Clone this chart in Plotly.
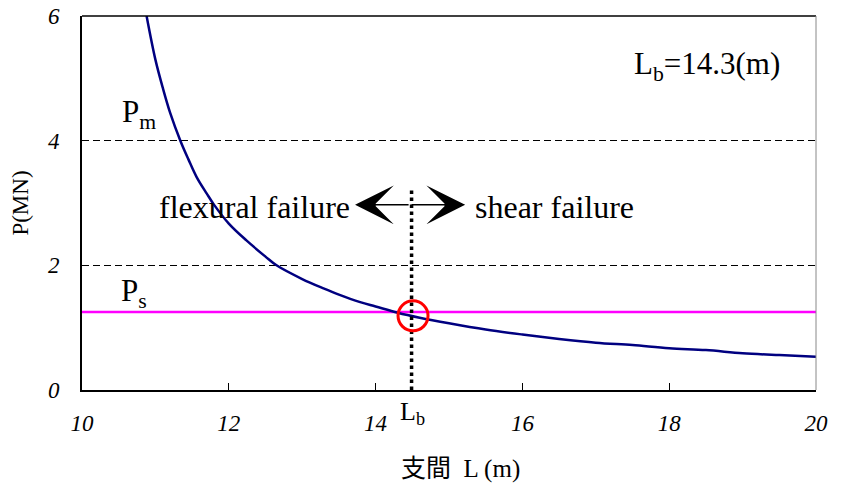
import plotly.graph_objects as go

# ---- data ----
span_L = [10.88, 11.0, 11.1, 11.2, 11.34, 11.45, 11.56, 11.7, 11.8, 12.0, 12.24, 12.5, 12.65,
          13.0, 13.29, 13.5, 13.79, 14.0, 14.3, 14.6, 15.0, 15.5, 16.0, 16.5, 17.0,
          17.5, 18.0, 18.5, 19.0, 19.5, 20.0]
load_P = [6.0, 5.3, 4.85, 4.45, 4.0, 3.7, 3.42, 3.15, 2.97, 2.67, 2.40, 2.14, 2.0,
          1.78, 1.63, 1.53, 1.41, 1.34, 1.24, 1.16, 1.07, 0.97, 0.89, 0.82, 0.76,
          0.72, 0.67, 0.64, 0.59, 0.56, 0.535]
Ps_value = 1.25
Pm_value = 4.0
Lb_line = 14.49
x_range = [10, 20]
y_range = [0, 6]
x_ticks = [10, 12, 14, 16, 18, 20]
y_ticks = [0, 2, 4, 6]

SERIF = "Liberation Serif"

fig = go.Figure()

# Ps horizontal line
fig.add_trace(go.Scatter(x=x_range, y=[Ps_value, Ps_value], mode="lines",
                         line=dict(color="#FF00FF", width=2.5), showlegend=False,
                         hoverinfo="skip"))
# curve
fig.add_trace(go.Scatter(x=span_L, y=load_P, mode="lines", line_shape="spline",
                         line=dict(color="#000080", width=2.5), showlegend=False))
# Lb dotted line
fig.add_trace(go.Scatter(x=[Lb_line, Lb_line], y=[0, 3.25], mode="lines",
                         line=dict(color="black", width=3.5, dash="dot"),
                         showlegend=False, hoverinfo="skip"))
# red circle at intersection
fig.add_trace(go.Scatter(x=[14.51], y=[1.19], mode="markers",
                         marker=dict(symbol="circle-open", size=30, color="red",
                                     line=dict(color="red", width=3)),
                         showlegend=False, hoverinfo="skip"))

tick_font = dict(family=SERIF, size=23, color="black", style="italic")
fig.update_xaxes(range=x_range, tickvals=x_ticks, ticks="inside", ticklen=7,
                 tickcolor="black", tickwidth=1, showline=True, linecolor="black",
                 linewidth=2, mirror=False, showgrid=False, zeroline=False,
                 tickfont=tick_font, ticklabelstandoff=11, automargin=False,
                 ticklabeloverflow="allow")
fig.update_yaxes(range=y_range, tickvals=y_ticks, ticks="", showline=True,
                 linecolor="black", linewidth=2, showgrid=True, gridcolor="black",
                 gridwidth=1, griddash="7px,4px", zeroline=False, tickfont=tick_font,
                 ticklabelstandoff=16, automargin=False, ticklabeloverflow="allow",
                 title=dict(text="P(MN)", font=dict(family=SERIF, size=23, color="black"),
                            standoff=15))

# frame: top line (black) and right border (thin gray)
fig.add_shape(type="line", xref="paper", yref="paper", x0=0, x1=1, y0=1, y1=1,
              line=dict(color="black", width=1.5))
fig.add_shape(type="line", xref="paper", yref="paper", x0=1, x1=1, y0=0, y1=1,
              line=dict(color="#888888", width=1))

ann_font = dict(family=SERIF, size=32, color="black")
annotations = [
    dict(x=13.68, y=2.94, text="flexural failure", xanchor="right", yanchor="middle",
         showarrow=False, font=ann_font),
    dict(x=15.33, y=2.94, text="shear failure", xanchor="left", yanchor="middle",
         showarrow=False, font=ann_font),
    dict(x=17.49, y=5.2, text="L<sub>b</sub>=14.3(m)", xanchor="left", yanchor="middle",
         showarrow=False, font=dict(family=SERIF, size=31, color="black")),
    dict(x=10.52, y=4.42, text="P<sub>m</sub>", xanchor="left", yanchor="middle",
         showarrow=False, font=dict(family=SERIF, size=31, color="black")),
    dict(x=10.5, y=1.56, text="P<sub>s</sub>", xanchor="left", yanchor="middle",
         showarrow=False, font=dict(family=SERIF, size=31, color="black")),
    dict(x=14.5, y=-0.0615, xref="x", yref="paper", text="L<sub>b</sub>",
         xanchor="center", yanchor="middle",
         showarrow=False, font=dict(family=SERIF, size=26, color="black")),
    dict(x=0.515, y=-0.204, xref="paper", yref="paper", xanchor="center", yanchor="middle",
         text="<span style='font-family:Noto Sans CJK JP'>支間</span>  L (m)",
         showarrow=False, font=dict(family=SERIF, size=25, color="black")),
    # double arrow
    dict(x=13.72, y=2.97, ax=14.47, ay=2.97, axref="x", ayref="y", text="",
         showarrow=True, arrowhead=3, arrowsize=4.3, arrowwidth=1.5, arrowcolor="black"),
    dict(x=15.22, y=2.97, ax=14.47, ay=2.97, axref="x", ayref="y", text="",
         showarrow=True, arrowhead=3, arrowsize=4.3, arrowwidth=1.5, arrowcolor="black"),
]
fig.update_layout(annotations=annotations)

# the page body adds an 8px offset; margins compensate so the plot area lands at
# x 82..816, y 16..390 in the window
fig.update_layout(width=847, height=493,
                  margin=dict(l=74, r=39, t=8, b=111, autoexpand=False),
                  paper_bgcolor="white", plot_bgcolor="white",
                  font=dict(family=SERIF, color="black"))

fig.write_html("out.html")
